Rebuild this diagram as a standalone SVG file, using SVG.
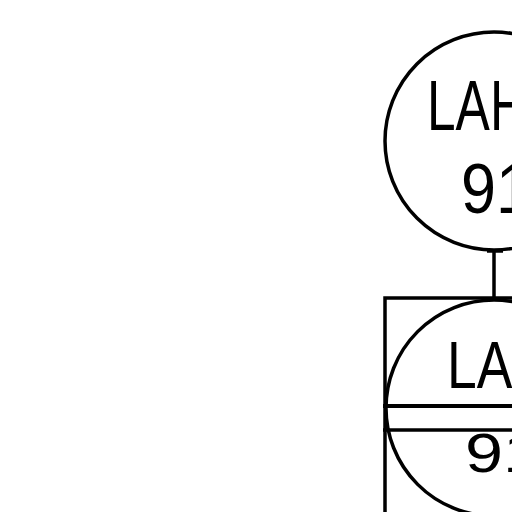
<svg xmlns="http://www.w3.org/2000/svg" width="512" height="512" viewBox="0 0 512 512">
<style>
.ln{fill:none;stroke:#000;stroke-width:3.5}
.t{font-family:"Liberation Sans",Arial,sans-serif;fill:#000}
</style>
<rect width="512" height="512" fill="#fff"/>
<g id="connectors">
<line class="ln" x1="494" y1="250" x2="494" y2="298"/>
<line class="ln" x1="487" y1="251" x2="503" y2="251"/>
</g>
<g id="node-lah-top">
<circle class="ln" cx="494" cy="141" r="109"/>
<text class="t" x="427" y="130" font-size="70" textLength="100" lengthAdjust="spacingAndGlyphs">LAH</text>
<text class="t" x="461" y="213" font-size="70" textLength="70" lengthAdjust="spacingAndGlyphs">91</text>
</g>
<g id="node-lah-panel">
<path class="ln" d="M385 512 V298 H512"/>
<line x1="383" y1="406" x2="512" y2="406" stroke="#000" stroke-width="4"/>
<line class="ln" x1="383" y1="430" x2="512" y2="430"/>
<circle class="ln" cx="494" cy="408" r="108"/>
<text class="t" x="447" y="388" font-size="66" textLength="104" lengthAdjust="spacingAndGlyphs">LAH</text>
<text class="t" x="465" y="472" font-size="56" textLength="76" lengthAdjust="spacingAndGlyphs">91</text>
</g>
</svg>
